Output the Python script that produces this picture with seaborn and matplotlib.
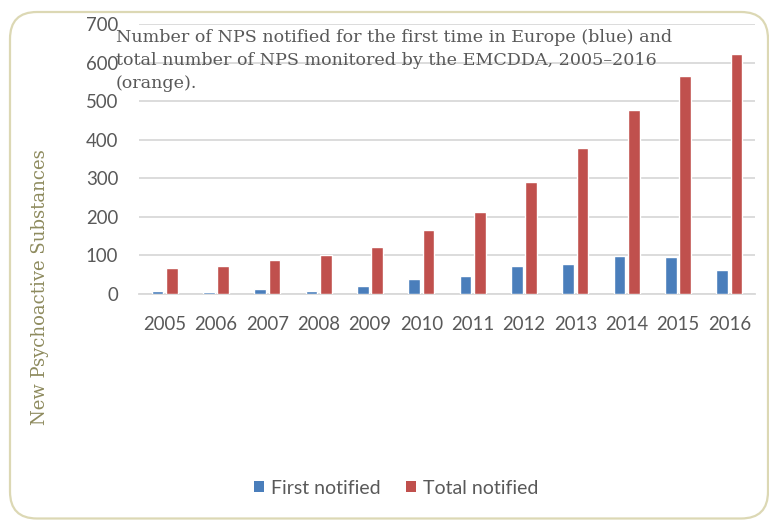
import matplotlib
matplotlib.use("Agg")
import matplotlib.pyplot as plt
from matplotlib.patches import FancyBboxPatch, Patch
import seaborn as sns
import pandas as pd

years = ["2005", "2006", "2007", "2008", "2009", "2010",
         "2011", "2012", "2013", "2014", "2015", "2016"]
first_notified = [8, 5, 12, 9, 22, 39, 46, 73, 79, 99, 96, 63]
total_notified = [68, 72, 88, 102, 121, 167, 212, 290, 378, 476, 566, 623]
series_names = ["First notified", "Total notified"]
colors = ["#4a7ebb", "#c0504d"]
y_ticks = [0, 100, 200, 300, 400, 500, 600, 700]
title_lines = [
    "Number of NPS notified for the first time in Europe (blue) and",
    "total number of NPS monitored by the EMCDDA, 2005\u20132016",
    "(orange).",
]
y_label = "New Psychoactive Substances"

df = pd.DataFrame({
    "year": years * 2,
    "count": first_notified + total_notified,
    "series": [series_names[0]] * len(years) + [series_names[1]] * len(years),
})

sns.set_theme(style="white")
plt.rcParams["font.family"] = ["Lato", "DejaVu Sans"]

W, H = 769, 520
fig = plt.figure(figsize=(W / 100, H / 100), dpi=100)

# rounded frame around the chart area
frame = FancyBboxPatch((10 / W, 1.5 / H), 758 / W, 506.5 / H,
                       boxstyle="round,pad=0,rounding_size=0.035",
                       transform=fig.transFigure, facecolor="none",
                       edgecolor="#dcd8b4", linewidth=1.6, zorder=-1,
                       mutation_aspect=W / H)
fig.patches.append(frame)

ax = fig.add_axes([139 / W, (H - 294) / H, (755 - 139) / W, (294 - 24) / H])
ax.set_facecolor("none")

sns.barplot(data=df, x="year", y="count", hue="series", order=years,
            hue_order=series_names, palette=colors, width=0.56, gap=0.19,
            saturation=1, legend=False, ax=ax, zorder=3)

ax.set_ylim(0, 700)
ax.set_xlim(-0.5, len(years) - 0.5)
ax.set_yticks(y_ticks)
ax.yaxis.grid(True, color="#d9d9d9", linewidth=1.3, zorder=0)
ax.set_axisbelow(True)
for side in ["top", "right", "left"]:
    ax.spines[side].set_visible(False)
ax.spines["bottom"].set_color("#d9d9d9")
ax.spines["bottom"].set_linewidth(1.3)
ax.tick_params(axis="both", length=0, labelsize=13.4, labelcolor="#595959")
ax.tick_params(axis="y", pad=15)
ax.tick_params(axis="x", pad=15.5)
ax.set_xlabel("")
ax.set_ylabel("")

fig.text(40 / W, 1 - 287 / H, y_label, rotation=90, ha="center", va="center",
         family=["DejaVu Serif"], fontsize=13, color="#8e8b5e")

for i, line in enumerate(title_lines):
    fig.text(116 / W, 1 - (37 + i * 23.5) / H, line, ha="left", va="center",
             family=["DejaVu Serif"], fontsize=12.6, color="#595959")

handles = [Patch(facecolor=c, edgecolor="none") for c in colors]
fig.legend(handles, series_names, loc="center", bbox_to_anchor=(396 / W, 1 - 488 / H),
           ncol=2, frameon=False, fontsize=14, labelcolor="#595959",
           handlelength=0.52, handleheight=0.52, handletextpad=0.36, columnspacing=1.3)

fig.savefig("out.png", dpi=100)
